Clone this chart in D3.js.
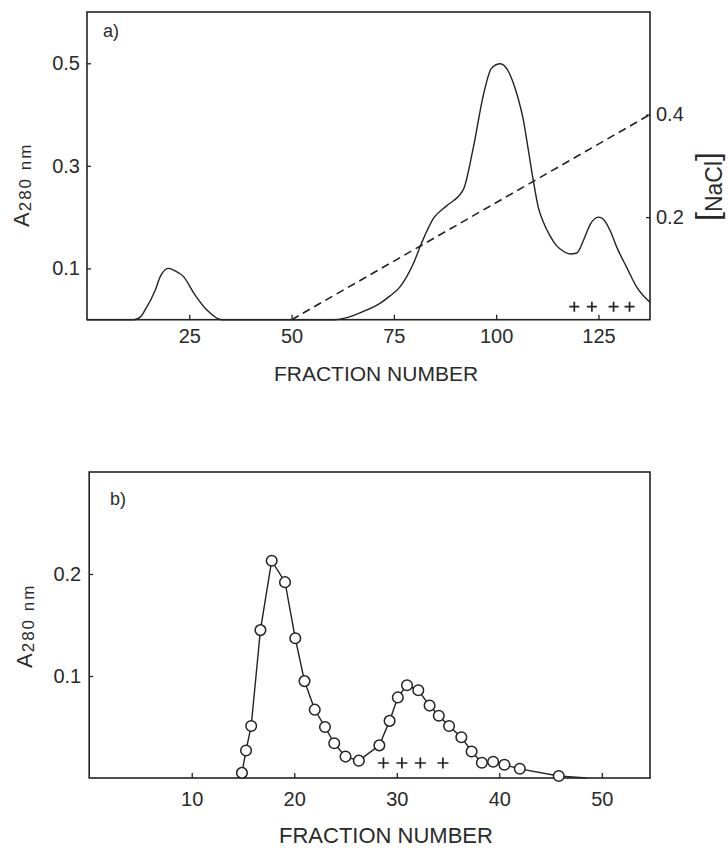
<!DOCTYPE html>
<html>
<head>
<meta charset="utf-8">
<script src="https://cdn.jsdelivr.net/npm/d3@7"></script>
<style>
  html, body { margin: 0; padding: 0; background: #fff; }
  svg { display: block; }
  text { font-family: "Liberation Sans", Arial, sans-serif; fill: #2a2a2a; }
</style>
</head>
<body>
<svg id="fig" width="728" height="850"></svg>
<script>
// ---- Panel a: ion-exchange elution profile ----
const elutionFraction = [0, 11.4, 13, 14.2, 16.7, 17.9, 19.9, 21.6, 23.6, 26.1, 29.3, 33, 45, 60.4, 63, 67.2, 71.6, 74, 76.5, 78, 79.8, 81.8, 84.7, 87.9, 92, 94.4, 96.9, 98.9, 101, 103, 105.1, 106.7, 107.9, 109.1, 110.3, 111.6, 113.2, 114.8, 116.5, 118.1, 119.7, 121.3, 123, 125, 126.2, 127.9, 129.5, 131.9, 134.4, 137.6];
const elutionA280    = [0, 0, 0.005, 0.019, 0.058, 0.084, 0.1, 0.095, 0.084, 0.052, 0.019, 0, 0, 0, 0.003, 0.015, 0.032, 0.046, 0.064, 0.082, 0.11, 0.15, 0.198, 0.222, 0.254, 0.335, 0.439, 0.491, 0.499, 0.484, 0.439, 0.387, 0.329, 0.27, 0.219, 0.189, 0.163, 0.144, 0.133, 0.128, 0.13, 0.154, 0.186, 0.2, 0.196, 0.173, 0.141, 0.102, 0.063, 0.034];
// linear salt gradient
const gradientFraction = [50, 137.6];
const gradientNaCl     = [0, 0.4];
// fractions showing activity (+)
const activityA = [119.1, 123.4, 128.7, 132.6];
const aXTicks = [25, 50, 75, 100, 125];
const aYTicks = [0.1, 0.3, 0.5];
const aRightTicks = [0.2, 0.4];

// ---- Panel b: gel filtration profile ----
const gelFraction = [14.9, 15.3, 15.8, 16.7, 17.8, 19.1, 20.1, 21.0, 22.0, 23.0, 23.9, 25.0, 26.3, 28.3, 29.3, 30.1, 31.0, 32.1, 33.2, 34.1, 35.1, 36.3, 37.3, 38.3, 39.4, 40.5, 42.0, 45.8];
const gelA280     = [0.005, 0.027, 0.051, 0.145, 0.213, 0.192, 0.137, 0.095, 0.067, 0.050, 0.034, 0.021, 0.017, 0.032, 0.056, 0.079, 0.091, 0.086, 0.071, 0.061, 0.051, 0.040, 0.026, 0.015, 0.016, 0.013, 0.009, 0.002];
const gelTail = [48.5, 0];
const activityB = [28.7, 30.5, 32.3, 34.5];
const bXTicks = [10, 20, 30, 40, 50];
const bYTicks = [0.1, 0.2];

const ink = "#222";
const svg = d3.select("#fig");

function frame(x, y) {
  const [x0, x1] = x.range(), [y0, y1] = y.range();
  svg.append("rect")
    .attr("x", x0).attr("y", y1).attr("width", x1 - x0).attr("height", y0 - y1)
    .attr("fill", "none").attr("stroke", ink).attr("stroke-width", 1.6);
}

function styleAxis(g, size) {
  g.select(".domain").remove();
  g.selectAll(".tick line").attr("stroke", ink).attr("stroke-width", 1.3);
  g.selectAll(".tick text").attr("font-size", size).attr("font-family", '"Liberation Sans", Arial, sans-serif').attr("fill", "#2a2a2a");
  g.attr("font-family", null).attr("font-size", null);
}

function pluses(x, baseY, fr, lift, half) {
  svg.append("g").selectAll("path").data(fr).join("path")
    .attr("d", d => {
      const cx = x(d), cy = baseY - lift;
      return `M${cx - half},${cy}H${cx + half}M${cx},${cy - half}V${cy + half}`;
    })
    .attr("stroke", ink).attr("stroke-width", 1.7).attr("fill", "none");
}

function yLabel(px, py, big, small) {
  const t = svg.append("text")
    .attr("transform", `translate(${px},${py}) rotate(-90)`);
  t.append("tspan").attr("font-size", big).text("A");
  t.append("tspan").attr("font-size", small).attr("dy", 2).attr("dx", 1).attr("letter-spacing", 2).text("280 nm");
}

// ===== Panel a =====
const xA = d3.scaleLinear().domain([0, 137.6]).range([87, 650]);
const yA = d3.scaleLinear().domain([0, 0.6]).range([319.7, 12]);

frame(xA, yA);

svg.append("g").attr("transform", `translate(0,${yA(0)})`)
  .call(d3.axisBottom(xA).tickValues(aXTicks).tickSize(-5).tickPadding(9).tickFormat(d3.format("d")))
  .call(g => styleAxis(g, 20));
svg.append("g").attr("transform", `translate(${xA.range()[0]},0)`)
  .call(d3.axisLeft(yA).tickValues(aYTicks).tickSize(-4).tickPadding(7).tickFormat(d3.format(".1f")))
  .call(g => styleAxis(g, 20));
svg.append("g").attr("transform", `translate(${xA.range()[1]},0)`)
  .call(d3.axisRight(yA).tickValues(aRightTicks).tickSize(-4).tickPadding(6).tickFormat(d3.format(".1f")))
  .call(g => styleAxis(g, 20));

const lineA = d3.line().x((d, i) => xA(elutionFraction[i])).y((d, i) => yA(elutionA280[i])).curve(d3.curveMonotoneX);
svg.append("path").datum(elutionFraction).attr("d", lineA)
  .attr("fill", "none").attr("stroke", ink).attr("stroke-width", 1.4);

svg.append("path")
  .datum(gradientFraction)
  .attr("d", d3.line().x((d, i) => xA(gradientFraction[i])).y((d, i) => yA(gradientNaCl[i])))
  .attr("fill", "none").attr("stroke", ink).attr("stroke-width", 1.6).attr("stroke-dasharray", "8,5");

pluses(xA, yA(0), activityA, 13, 5);

svg.append("text").attr("x", 103).attr("y", 37).attr("font-size", 18).text("a)");
yLabel(29, 227, 22, 17);

const nacl = svg.append("text").attr("transform", "translate(718,221) rotate(-90)");
nacl.append("tspan").attr("font-size", 32).text("[");
nacl.append("tspan").attr("font-size", 23).attr("dy", 4).text("NaCl");
nacl.append("tspan").attr("font-size", 32).attr("dy", -4).text("]");

svg.append("text").attr("x", 376).attr("y", 381).attr("text-anchor", "middle")
  .attr("font-size", 21).text("FRACTION NUMBER");

// ===== Panel b =====
const xB = d3.scaleLinear().domain([0, 54.7]).range([89.2, 650]);
const yB = d3.scaleLinear().domain([0, 0.3]).range([778, 472]);

frame(xB, yB);

svg.append("g").attr("transform", `translate(0,${yB(0)})`)
  .call(d3.axisBottom(xB).tickValues(bXTicks).tickSize(-5).tickPadding(14).tickFormat(d3.format("d")))
  .call(g => styleAxis(g, 20));
svg.append("g").attr("transform", `translate(${xB.range()[0]},0)`)
  .call(d3.axisLeft(yB).tickValues(bYTicks).tickSize(-4).tickPadding(8).tickFormat(d3.format(".1f")))
  .call(g => styleAxis(g, 20));

const gelPts = gelFraction.map((f, i) => [f, gelA280[i]]);
svg.append("path").datum(gelPts.concat([gelTail]))
  .attr("d", d3.line().x(d => xB(d[0])).y(d => yB(d[1])))
  .attr("fill", "none").attr("stroke", ink).attr("stroke-width", 1.4);

svg.append("g").selectAll("circle").data(gelPts).join("circle")
  .attr("cx", d => xB(d[0])).attr("cy", d => yB(d[1])).attr("r", 5.3)
  .attr("fill", "#fff").attr("stroke", ink).attr("stroke-width", 1.5);

pluses(xB, yB(0), activityB, 15, 5.5);

svg.append("text").attr("x", 110).attr("y", 505).attr("font-size", 18).text("b)");
yLabel(32, 668, 22, 17);

svg.append("text").attr("x", 386).attr("y", 843).attr("text-anchor", "middle")
  .attr("font-size", 22).text("FRACTION NUMBER");
</script>
</body>
</html>
